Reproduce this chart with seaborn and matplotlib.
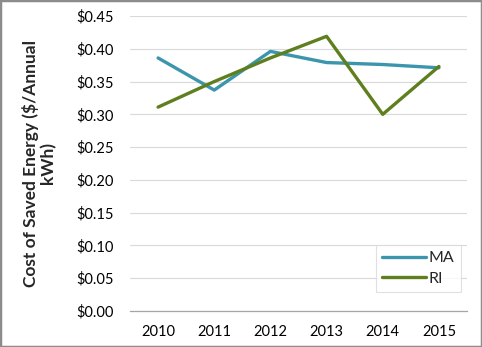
import matplotlib
matplotlib.use("Agg")
import matplotlib.pyplot as plt
import seaborn as sns
import pandas as pd
from matplotlib.patches import Rectangle
from matplotlib.ticker import FuncFormatter, MultipleLocator

years = [2010, 2011, 2012, 2013, 2014, 2015]
ma_cost = [0.386, 0.337, 0.396, 0.379, 0.376, 0.371]
ri_cost = [0.311, 0.350, 0.386, 0.419, 0.300, 0.373]
series_names = ["MA", "RI"]
colors = {"MA": "#3A95AD", "RI": "#5F7F1E"}

df = pd.DataFrame({
    "Year": [str(y) for y in years] * 2,
    "Cost": ma_cost + ri_cost,
    "State": [series_names[0]] * len(years) + [series_names[1]] * len(years),
})

sns.set_theme(style="white")
plt.rcParams["font.family"] = ["Lato", "DejaVu Sans"]

fig = plt.figure(figsize=(4.82, 3.47), dpi=100)
ax = fig.add_axes([130 / 482, 1 - 311 / 347, (467 - 130) / 482, (311 - 16) / 347])

sns.lineplot(data=df, x="Year", y="Cost", hue="State", palette=colors,
             linewidth=2.4, sort=False, ax=ax)

ax.set_xlim(-0.5, len(years) - 0.5)
ax.set_ylim(0, 0.45)
ax.yaxis.set_major_locator(MultipleLocator(0.05))
ax.yaxis.set_major_formatter(FuncFormatter(lambda v, p: f"${v:.2f}"))
ax.grid(axis="y", color="#D9D9D9", linewidth=0.8)
ax.set_axisbelow(True)
for s in ["top", "right", "left"]:
    ax.spines[s].set_visible(False)
ax.spines["bottom"].set_color("#A6A6A6")
ax.spines["bottom"].set_linewidth(0.9)
ax.tick_params(axis="both", length=0, labelsize=10.5, colors="#000000")
ax.tick_params(axis="y", pad=12)
ax.tick_params(axis="x", pad=10)
ax.set_xlabel("")
ax.set_ylabel("Cost of Saved Energy ($/Annual\nkWh)", fontsize=12.5,
              fontweight="bold", linespacing=1.1)
ax.yaxis.set_label_coords(-0.218, 0.5)

leg = ax.legend(loc="lower right", bbox_to_anchor=(0.982, 0.064),
                borderaxespad=0, frameon=True, fontsize=11.5,
                handlelength=2.7, handletextpad=0.2, borderpad=0.4,
                labelspacing=0.4, fancybox=False)
leg.get_frame().set_edgecolor("#D9D9D9")
leg.get_frame().set_linewidth(0.8)
for line in leg.get_lines():
    line.set_linewidth(2.4)

fig.patches.append(Rectangle((0, 0), 1, 1, transform=fig.transFigure,
                             fill=False, edgecolor="#8C8C8C", linewidth=2.5))

fig.savefig("out.png", dpi=100)
